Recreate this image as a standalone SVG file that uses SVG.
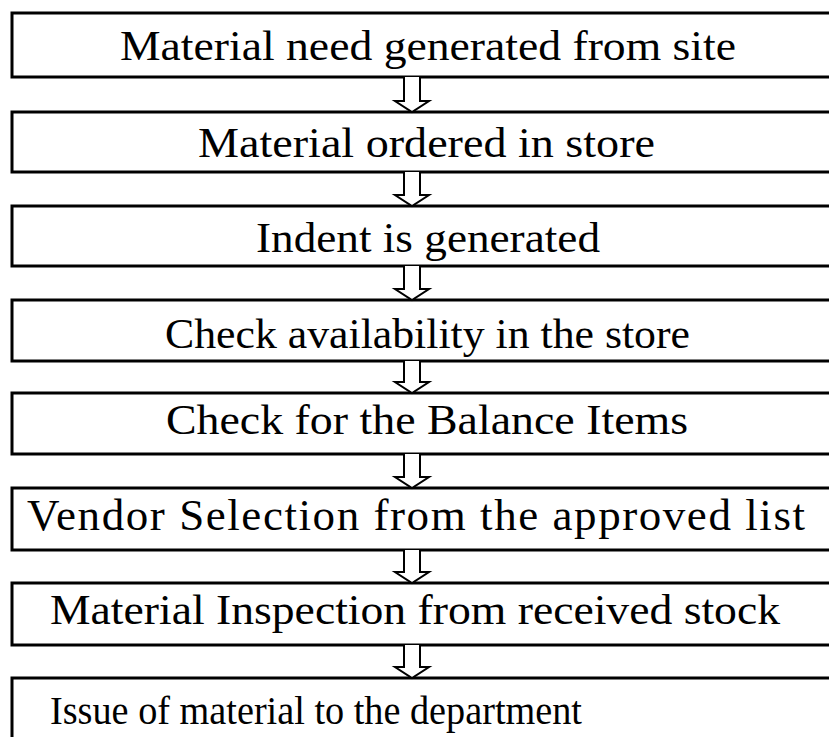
<svg xmlns="http://www.w3.org/2000/svg" width="829" height="737" viewBox="0 0 829 737">
<style>
.box{fill:#fff;stroke:#000;stroke-width:3}
.lbl{font-family:"Liberation Serif","Times New Roman",serif;font-size:42px;fill:#000}
.arr{fill:#fff;stroke:#000;stroke-width:2;stroke-linejoin:miter}
</style>
<rect width="829" height="737" fill="#fff"/>
<g id="n1"><rect class="box" x="12" y="13" width="840" height="64"/><text class="lbl" x="120" y="60" textLength="616" lengthAdjust="spacingAndGlyphs">Material need generated from site</text></g>
<g id="n2"><rect class="box" x="12" y="112" width="840" height="60"/><text class="lbl" x="198" y="157" textLength="457" lengthAdjust="spacingAndGlyphs">Material ordered in store</text></g>
<g id="n3"><rect class="box" x="12" y="206" width="840" height="60"/><text class="lbl" x="256" y="252" textLength="344" lengthAdjust="spacingAndGlyphs">Indent is generated</text></g>
<g id="n4"><rect class="box" x="12" y="300" width="840" height="61"/><text class="lbl" x="165" y="348" textLength="525" lengthAdjust="spacingAndGlyphs">Check availability in the store</text></g>
<g id="n5"><rect class="box" x="12" y="393" width="840" height="61"/><text class="lbl" x="166" y="434" textLength="522" lengthAdjust="spacingAndGlyphs">Check for the Balance Items</text></g>
<g id="n6"><rect class="box" x="12" y="488" width="840" height="62"/><text class="lbl" x="27" y="530" style="font-size:45px" textLength="778" lengthAdjust="spacing">Vendor Selection from the approved list</text></g>
<g id="n7"><rect class="box" x="12" y="583" width="840" height="62"/><text class="lbl" x="50" y="624" textLength="730" lengthAdjust="spacingAndGlyphs">Material Inspection from received stock</text></g>
<g id="n8"><rect class="box" x="12" y="678" width="840" height="80"/><text class="lbl" x="50" y="724" style="font-size:39px" textLength="532" lengthAdjust="spacingAndGlyphs">Issue of material to the department</text></g>
<g id="connectors">
<path class="arr" d="M404,77 V101 H395 L412,112 L429,101 H420 V77"/>
<path class="arr" d="M404,172 V195 H395 L412,206 L429,195 H420 V172"/>
<path class="arr" d="M404,266 V289 H395 L412,300 L429,289 H420 V266"/>
<path class="arr" d="M404,361 V382 H395 L412,393 L429,382 H420 V361"/>
<path class="arr" d="M404,454 V477 H395 L412,488 L429,477 H420 V454"/>
<path class="arr" d="M404,550 V572 H395 L412,583 L429,572 H420 V550"/>
<path class="arr" d="M404,645 V667 H395 L412,678 L429,667 H420 V645"/>
</g>
</svg>
